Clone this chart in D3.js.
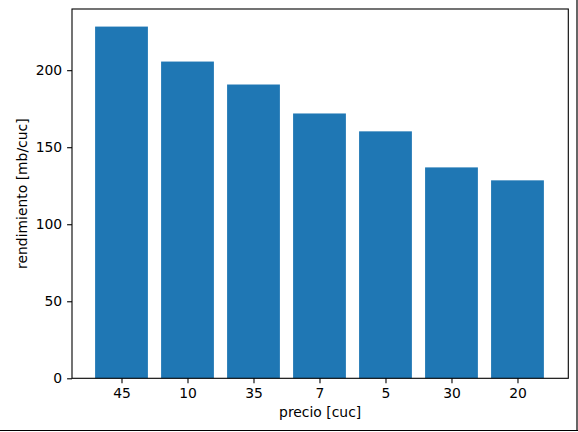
<!DOCTYPE html>
<html><head><meta charset="utf-8">
<script src="https://cdn.jsdelivr.net/npm/d3@7"></script>
<style>body{margin:0;background:#fff}svg{display:block}text{font-family:"DejaVu Sans",sans-serif}</style>
</head><body><svg id="c" width="578" height="432"></svg>
<script>
const categories = ["45","10","35","7","5","30","20"];
const values = [228.3, 205.6, 190.7, 171.9, 160.3, 136.9, 128.5];
const yTicks = [0, 50, 100, 150, 200];
const xLabel = "precio [cuc]";
const yLabel = "rendimiento [mb/cuc]";

const svg = d3.select("#c");
const L = 72, R = 568.3, T = 9, B = 378.3;
const fs = 13.9;
const x = d3.scaleLinear().domain([-0.75, categories.length - 1 + 0.77]).range([L, R]);
const y = d3.scaleLinear().domain([0, d3.max(values) * 1.05]).range([B, T]);
const bw = x(0.8) - x(0);

svg.append("rect").attr("width",578).attr("height",432).attr("fill","#fff");

svg.selectAll("rect.bar").data(values).join("rect").attr("class","bar")
  .attr("x",(d,i)=>x(i)-bw/2).attr("width",bw)
  .attr("y",d=>y(d)).attr("height",d=>B-y(d)).attr("fill","#1f77b4");

const xAxis = d3.axisBottom(x).tickValues(d3.range(categories.length))
  .tickFormat(i=>categories[i]).tickSize(4.9).tickPadding(4.9);
const gx = svg.append("g").attr("transform",`translate(0,${B})`).call(xAxis);
const yAxis = d3.axisLeft(y).tickValues(yTicks).tickSize(4.9).tickPadding(4.9);
const gy = svg.append("g").attr("transform",`translate(${L},0)`).call(yAxis);
[gx,gy].forEach(g=>{
  g.select(".domain").remove();
  g.selectAll("line").attr("stroke","#000").attr("stroke-width",1.1);
  g.selectAll("text").attr("font-size",fs).attr("font-family","DejaVu Sans").attr("fill","#000");
});

svg.append("rect").attr("x",L).attr("y",T).attr("width",R-L).attr("height",B-T)
  .attr("fill","none").attr("stroke","#000").attr("stroke-width",1.1);

svg.append("text").attr("x",(L+R)/2).attr("y",417).attr("text-anchor","middle")
  .attr("font-size",fs).text(xLabel);
svg.append("text").attr("transform",`translate(27,${(T+B)/2}) rotate(-90)`)
  .attr("text-anchor","middle").attr("font-size",fs).text(yLabel);

// figure frame edges (right and bottom)
svg.append("line").attr("x1",577).attr("x2",577).attr("y1",0).attr("y2",431).attr("stroke","#000").attr("stroke-width",1.2);
svg.append("line").attr("x1",0).attr("x2",578).attr("y1",430.5).attr("y2",430.5).attr("stroke","#000").attr("stroke-width",1.2);
</script></body></html>
